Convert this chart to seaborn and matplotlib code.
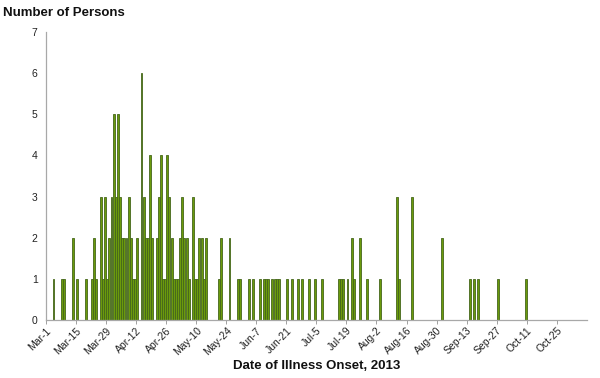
import matplotlib
matplotlib.use("Agg")
import matplotlib.pyplot as plt
import seaborn as sns
import pandas as pd
import numpy as np

# Day offsets from 2013-03-01 and number of persons with illness onset that day
onset_day = [3, 7, 8, 12, 14, 18, 21, 22, 23,
             25, 26, 27, 28, 29, 30, 31, 32, 33, 34, 35, 36, 37, 38, 39, 40, 41, 42,
             44, 45, 46, 47, 48, 49,
             51, 52, 53, 54, 55, 56, 57, 58, 59, 60, 61, 62, 63, 64, 65, 66,
             68, 69, 70, 71, 72, 73, 74,
             80, 81, 85, 89, 90,
             94, 96, 99, 101, 102, 103, 105, 106, 107, 108, 112, 114, 117, 119, 122, 125, 128,
             136, 137, 138, 140, 142, 143, 146, 149, 155,
             163, 164, 170, 184, 197, 199, 201, 210, 223]
persons = [1, 1, 1, 2, 1, 1, 1, 2, 1,
           3, 1, 3, 1, 2, 3, 5, 3, 5, 3, 2, 2, 2, 3, 2, 1, 1, 2,
           6, 3, 2, 2, 4, 2,
           2, 3, 4, 1, 1, 4, 3, 2, 1, 1, 1, 2, 3, 2, 2, 1,
           3, 1, 1, 2, 2, 1, 2,
           1, 2, 2, 1, 1,
           1, 1, 1, 1, 1, 1, 1, 1, 1, 1, 1, 1, 1, 1, 1, 1, 1,
           1, 1, 1, 1, 2, 1, 2, 1, 1,
           3, 1, 3, 2, 1, 1, 1, 1, 1]

tick_days = [0, 14, 28, 42, 56, 70, 84, 98, 112, 126, 140, 154, 168, 182, 196, 210, 224, 238]
tick_labels = ["Mar-1", "Mar-15", "Mar-29", "Apr-12", "Apr-26", "May-10", "May-24",
               "Jun-7", "Jun-21", "Jul-5", "Jul-19", "Aug-2", "Aug-16", "Aug-30",
               "Sep-13", "Sep-27", "Oct-11", "Oct-25"]
y_ticks = [0, 1, 2, 3, 4, 5, 6, 7]

n_days = 252

sns.set_theme(style="white")
plt.rcParams["font.family"] = ["Liberation Sans", "DejaVu Sans"]

df = pd.DataFrame({"day": onset_day, "persons": persons})
full = pd.DataFrame({"day": np.arange(n_days)})
full = full.merge(df, on="day", how="left").fillna(0)
full["pos"] = full["day"] + 0.5

fig = plt.figure(figsize=(6.0, 3.78), dpi=100)
ax = fig.add_axes([0.0767, 0.1534, 0.9013, 0.7619])

sns.barplot(data=full, x="pos", y="persons", native_scale=True, width=0.9,
            color="#6b9a0c", edgecolor="#44661a", linewidth=0.6,
            saturation=1, errorbar=None, ax=ax)

ax.set_xlim(0, n_days)
ax.set_ylim(0, 7)
ax.set_xticks(tick_days)
ax.set_xticklabels(tick_labels, rotation=45, ha="right", rotation_mode="anchor",
                   fontsize=7.5, color="#222222")
ax.set_yticks(y_ticks)
ax.set_yticklabels([str(v) for v in y_ticks], fontsize=7.5, color="#222222")
ax.tick_params(axis="x", which="major", direction="out", length=3, width=0.7,
               color="#a0a0a0", pad=1, bottom=True)
ax.tick_params(axis="y", which="major", direction="out", length=0, pad=6, left=True)

for side in ["top", "right"]:
    ax.spines[side].set_visible(False)
for side in ["left", "bottom"]:
    ax.spines[side].set_color("#a8a8a8")
    ax.spines[side].set_linewidth(0.9)

ax.set_xlabel("Date of Illness Onset, 2013", fontsize=9.5, fontweight="bold",
              color="#111111", labelpad=2)
ax.set_ylabel("")
fig.text(0.005, 0.965, "Number of Persons", fontsize=9.5, fontweight="bold",
         color="#111111", ha="left", va="center")

fig.savefig("out.png", dpi=100)
